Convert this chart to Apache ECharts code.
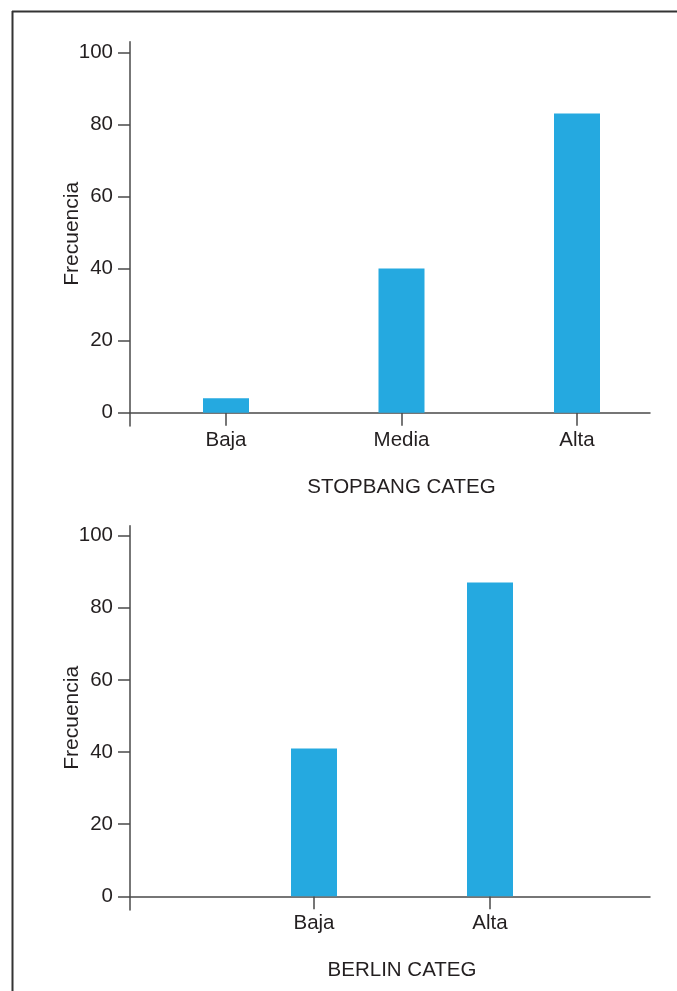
<!DOCTYPE html>
<html>
<head>
<meta charset="utf-8">
<script src="https://cdn.jsdelivr.net/npm/echarts@6/dist/echarts.min.js"></script>
<style>
html,body{margin:0;padding:0;background:#fff;}
#chart{width:677px;height:991px;}
</style>
</head>
<body>
<div id="chart"></div>
<script>
const topCategories = ['Baja', 'Media', 'Alta'];
const topValues = [4, 40, 83];
const topTitle = 'STOPBANG CATEG';
const bottomCategories = ['Baja', 'Alta'];
const bottomValues = [41, 87];
const bottomTitle = 'BERLIN CATEG';
const yTicks = [0, 20, 40, 60, 80, 100];
const yName = 'Frecuencia';

const FONT = "'Liberation Sans', Arial, Helvetica, sans-serif";
const TXT = '#231f20';
const AX = '#4a4a4a';
const BAR = '#25a9e0';

function catAxis(idx, cats, name) {
  return {
    type: 'category', gridIndex: idx, data: cats,
    axisLine: { show: false },
    axisTick: { show: true, alignWithLabel: true, length: 13, lineStyle: { color: AX, width: 1.5 } },
    axisLabel: { fontSize: 20.5, color: TXT, fontFamily: FONT, margin: 17 },
    splitLine: { show: false },
    name: name, nameLocation: 'middle', nameGap: 64, nameMoveOverlap: false,
    nameTextStyle: { fontSize: 20.5, color: TXT, fontFamily: FONT }
  };
}
function frameX(idx) {
  return {
    type: 'value', gridIndex: idx, min: 0, max: 1,
    axisLine: { show: true, onZero: true, lineStyle: { color: AX, width: 1.5 } },
    axisTick: { show: false }, axisLabel: { show: false }, splitLine: { show: false }
  };
}
function frameY(idx, min, max) {
  return {
    type: 'value', gridIndex: idx, min: min, max: max,
    axisLine: { show: true, lineStyle: { color: AX, width: 1.5 } },
    axisTick: { show: true, length: 12, customValues: yTicks, lineStyle: { color: AX, width: 1.5 } },
    axisLabel: { show: true, customValues: yTicks, fontSize: 20.5, color: TXT, fontFamily: FONT, margin: 17 },
    splitLine: { show: false },
    name: yName, nameLocation: 'middle', nameGap: 47.5, nameMoveOverlap: false,
    nameTextStyle: { fontSize: 21, color: TXT, fontFamily: FONT }
  };
}
function dataY(idx) {
  return { type: 'value', gridIndex: idx, min: 0, max: 100, show: false, splitLine: { show: false } };
}

const chart = echarts.init(document.getElementById('chart'), null, { renderer: 'canvas' });
chart.setOption({
  animation: false,
  backgroundColor: '#fff',
  textStyle: { fontFamily: FONT },
  grid: [
    { left: 138.25, right: 12.25, top: 52.3, height: 360.4 },
    { left: 130, right: 27, top: 41.7, height: 384.3 },
    { left: 226, right: 99, top: 535.7, height: 360.6 },
    { left: 130, right: 27, top: 525.7, height: 384.3 }
  ],
  xAxis: [
    catAxis(0, topCategories, topTitle),
    frameX(1),
    catAxis(2, bottomCategories, bottomTitle),
    frameX(3)
  ],
  yAxis: [
    dataY(0),
    frameY(1, -3.69, 102.94),
    dataY(2),
    frameY(3, -3.8, 102.77)
  ],
  series: [
    { type: 'bar', xAxisIndex: 0, yAxisIndex: 0, data: topValues, barWidth: 46, itemStyle: { color: BAR }, z: 1 },
    { type: 'bar', xAxisIndex: 2, yAxisIndex: 2, data: bottomValues, barWidth: 46, itemStyle: { color: BAR }, z: 1 }
  ],
  graphic: [
    { type: 'line', shape: { x1: 12, y1: 11.5, x2: 677, y2: 11.5 }, style: { stroke: '#333', lineWidth: 2 }, silent: true },
    { type: 'line', shape: { x1: 12.5, y1: 11, x2: 12.5, y2: 991 }, style: { stroke: '#333', lineWidth: 2 }, silent: true }
  ]
});
</script>
</body>
</html>
